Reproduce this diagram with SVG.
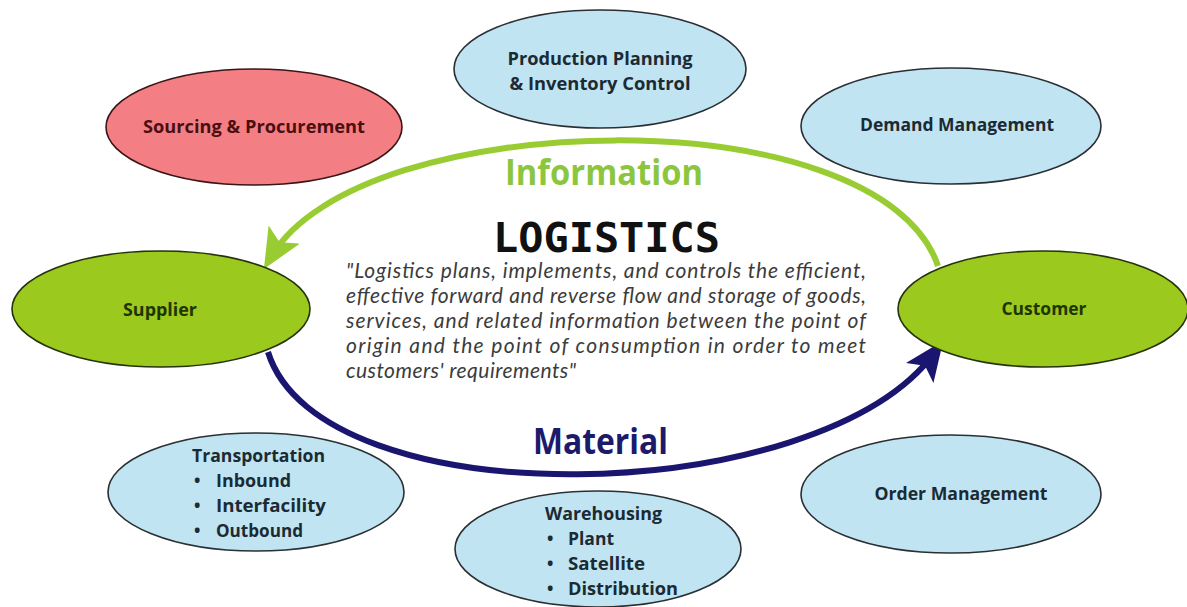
<svg xmlns="http://www.w3.org/2000/svg" width="1187" height="607" viewBox="0 0 1187 607">
<style>
.lbl{font-family:"Open Sans","Noto Sans","Liberation Sans",sans-serif;font-weight:bold;font-size:17px;fill:#1b2a33}
.blue{fill:#c0e4f1;stroke:#2a2f33;stroke-width:1.6}
.green{fill:#9bc91e;stroke:#24330c;stroke-width:1.6}
.pink{fill:#f37f84;stroke:#3a1616;stroke-width:1.6}
.glbl{fill:#1f3500}
.plbl{fill:#4a0f12}
.quote{font-family:Lato,"Open Sans","Liberation Sans",sans-serif;font-style:italic;font-size:21px;fill:#3c3c3c}
.big{font-family:"Open Sans","Noto Sans","Liberation Sans",sans-serif;font-weight:bold;font-size:35px}
</style>
<defs>
<marker id="arrG" markerUnits="userSpaceOnUse" viewBox="0 0 40 36" refX="26" refY="18" markerWidth="40" markerHeight="36" orient="auto">
<path d="M0,0 L40,18 L0,36 L9,18 z" fill="#99cc33"/>
</marker>
<marker id="arrN" markerUnits="userSpaceOnUse" viewBox="0 0 40 34" refX="26" refY="17" markerWidth="40" markerHeight="34" orient="auto">
<path d="M0,0 L40,17 L0,34 L9,17 z" fill="#1a1670"/>
</marker>
</defs>
<rect width="1187" height="607" fill="#ffffff"/>

<g id="connectors" fill="none">
<path id="info-arc" d="M938,266 C880,95 360,105 271,257" stroke="#99cc33" stroke-width="6" marker-end="url(#arrG)"/>
<path id="material-arc" d="M268,352 C320,520 820,510 935,352" stroke="#1a1670" stroke-width="6" marker-end="url(#arrN)"/>
</g>

<g id="sourcing">
<ellipse class="pink" cx="254" cy="127" rx="148" ry="58"/>
<text class="lbl plbl" x="254" y="133" text-anchor="middle" textLength="222" lengthAdjust="spacingAndGlyphs">Sourcing &amp; Procurement</text>
</g>
<g id="production">
<ellipse class="blue" cx="600" cy="69" rx="146" ry="59"/>
<text class="lbl" x="600" y="65" text-anchor="middle" textLength="185" lengthAdjust="spacingAndGlyphs">Production Planning</text>
<text class="lbl" x="600" y="90" text-anchor="middle" textLength="181" lengthAdjust="spacingAndGlyphs">&amp; Inventory Control</text>
</g>
<g id="demand">
<ellipse class="blue" cx="951" cy="126" rx="150" ry="58"/>
<text class="lbl" x="957" y="131" text-anchor="middle" textLength="194" lengthAdjust="spacingAndGlyphs">Demand Management</text>
</g>
<g id="supplier">
<ellipse class="green" cx="161" cy="309" rx="149" ry="58"/>
<text class="lbl glbl" x="160" y="316" text-anchor="middle" textLength="74" lengthAdjust="spacingAndGlyphs">Supplier</text>
</g>
<g id="customer">
<ellipse class="green" cx="1043" cy="309" rx="145" ry="58"/>
<text class="lbl glbl" x="1044" y="315" text-anchor="middle" textLength="85" lengthAdjust="spacingAndGlyphs">Customer</text>
</g>
<g id="transportation">
<ellipse class="blue" cx="256" cy="492" rx="148" ry="59"/>
<text class="lbl" x="192" y="462" textLength="133" lengthAdjust="spacingAndGlyphs">Transportation</text>
<text class="lbl" x="194" y="487">•</text><text class="lbl" x="216" y="487" textLength="75" lengthAdjust="spacingAndGlyphs">Inbound</text>
<text class="lbl" x="194" y="512">•</text><text class="lbl" x="216" y="512" textLength="110" lengthAdjust="spacingAndGlyphs">Interfacility</text>
<text class="lbl" x="194" y="537">•</text><text class="lbl" x="216" y="537" textLength="87" lengthAdjust="spacingAndGlyphs">Outbound</text>
</g>
<g id="warehousing">
<ellipse class="blue" cx="598" cy="549" rx="143" ry="58"/>
<text class="lbl" x="545" y="520" textLength="117" lengthAdjust="spacingAndGlyphs">Warehousing</text>
<text class="lbl" x="547" y="545">•</text><text class="lbl" x="568" y="545" textLength="46" lengthAdjust="spacingAndGlyphs">Plant</text>
<text class="lbl" x="547" y="570">•</text><text class="lbl" x="568" y="570" textLength="77" lengthAdjust="spacingAndGlyphs">Satellite</text>
<text class="lbl" x="547" y="595">•</text><text class="lbl" x="568" y="595" textLength="110" lengthAdjust="spacingAndGlyphs">Distribution</text>
</g>
<g id="order">
<ellipse class="blue" cx="951" cy="494" rx="150" ry="59"/>
<text class="lbl" x="961" y="500" text-anchor="middle" textLength="173" lengthAdjust="spacingAndGlyphs">Order Management</text>
</g>

<g id="labels">
<text class="big" x="505" y="185" fill="#8cc63e" textLength="198" lengthAdjust="spacingAndGlyphs">Information</text>
<text class="big" x="533" y="454" fill="#1c1a6b" textLength="135" lengthAdjust="spacingAndGlyphs">Material</text>
</g>

<g id="logistics">
<text x="493" y="252" font-family="'DejaVu Sans Mono','Liberation Mono',monospace" font-weight="bold" font-size="40" fill="#111111" textLength="227" lengthAdjust="spacingAndGlyphs">LOGISTICS</text>
<text class="quote" x="346" y="278" textLength="520" lengthAdjust="spacing">"Logistics plans, implements, and controls the efficient,</text>
<text class="quote" x="346" y="303" textLength="520" lengthAdjust="spacing">effective forward and reverse flow and storage of goods,</text>
<text class="quote" x="346" y="328" textLength="520" lengthAdjust="spacing">services, and related information between the point of</text>
<text class="quote" x="346" y="353" textLength="520" lengthAdjust="spacing">origin and the point of consumption in order to meet</text>
<text class="quote" x="346" y="378" textLength="230" lengthAdjust="spacing">customers' requirements"</text>
</g>
</svg>
